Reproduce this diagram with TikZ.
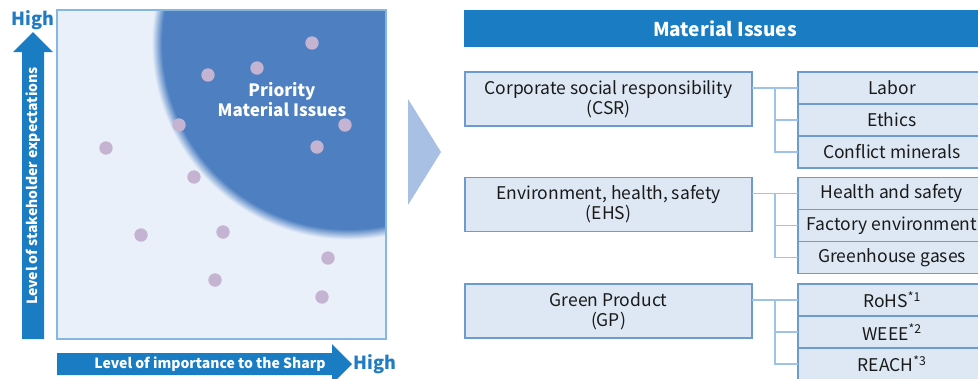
\documentclass[tikz,border=0pt]{standalone}
\usepackage{fontspec}
\setmainfont{Noto Sans CJK JP}
\usetikzlibrary{positioning,calc}

\definecolor{sharpblue}{HTML}{1A7DC4}
\definecolor{highblue}{HTML}{1F7BC3}
\definecolor{mapbg}{HTML}{EAF0FA}
\definecolor{mapline}{HTML}{86B6E2}
\definecolor{blobblue}{HTML}{4E80C1}
\definecolor{dotlilac}{HTML}{C4B3D1}
\definecolor{chevron}{HTML}{A7C0E4}
\definecolor{boxfill}{HTML}{DDE8F4}
\definecolor{boxline}{HTML}{6C9BD0}
\definecolor{linkline}{HTML}{9DC3E6}
\definecolor{ink}{HTML}{1A1A1A}

\pgfdeclareradialshading{blobfade}{\pgfpoint{0bp}{0bp}}{color(0bp)=(blobblue); color(23.5bp)=(blobblue); color(24.8bp)=(mapbg); color(50bp)=(mapbg)}

\tikzset{
  issue/.style={draw=boxline, line width=1.5pt, fill=boxfill, text=ink,
    font=\fontsize{17.5}{20}\selectfont, align=center, inner sep=0pt, outer sep=0pt,
    minimum width=287pt, minimum height=54pt},
  subissue/.style={issue, minimum width=188pt, minimum height=32pt},
  link/.style={draw=linkline, line width=1.5pt},
  hightext/.style={text=highblue, font=\bfseries\fontsize{18}{20}\selectfont, inner sep=0pt},
  axistext/.style={text=white, font=\bfseries\fontsize{14}{16}\selectfont, inner sep=0pt},
  issuedot/.style={fill=dotlilac}
}

\begin{document}
\begin{tikzpicture}[x=1pt, y=-1pt]

  \useasboundingbox (0,0) rectangle (978,378);
  \clip (0,0) rectangle (978,378);

  % materiality map
  \fill[mapbg] (57,10) rectangle (386,339);
  \begin{scope}
    \clip (57,10) rectangle (386,339);
    \shade[shading=blobfade] (348,43) circle (198);
  \end{scope}
  \draw[mapline, line width=1.2pt] (57,10) rectangle (386,339);

  \foreach \dx/\dy in {312/43, 257/68, 208/75, 179/125, 106/148, 345/125, 317/147,
                       194/177, 141/235, 223/232, 328/258, 215/280, 322/297}
    \fill[issuedot] (\dx,\dy) circle (6.7);

  \node (priority) [text=white, font=\bfseries\fontsize{17}{20}\selectfont, align=center]
    at (282,100) {Priority\\Material Issues};

  % axes
  \fill[sharpblue] (22,339) -- (22,52) -- (13,52) -- (33,32) -- (53,52) -- (44,52) -- (44,339) -- cycle;
  \fill[sharpblue] (57,353) -- (332,353) -- (332,344) -- (352,364) -- (332,384) -- (332,375) -- (57,375) -- cycle;
  \node (ylabel) [axistext, rotate=90] at (33,186) {Level of stakeholder expectations};
  \node (xlabel) [axistext] at (210,364) {Level of importance to the Sharp};
  \node (hightop) [hightext] at (33,20) {High};
  \node (highright) [hightext] at (375,364) {High};

  \fill[chevron] (408,99) -- (441,152) -- (408,205) -- cycle;

  % issue list
  \node (header) [fill=sharpblue, text=white, font=\bfseries\fontsize{19}{22}\selectfont,
    minimum width=522pt, minimum height=37pt, inner sep=0pt] at (725,28.5) {Material Issues};

  \node (csr) [issue] at (608.5,99) {Corporate social responsibility\\(CSR)};
  \node (labor) [subissue] at (892,88) {Labor};
  \node (ethics) [subissue, below=0pt of labor] {Ethics};
  \node (conflict) [subissue, below=0pt of ethics] {Conflict minerals};

  \node (ehs) [issue] at (608.5,204.5) {Environment, health, safety\\(EHS)};
  \node (health) [subissue] at (892,193.5) {Health and safety};
  \node (factory) [subissue, below=0pt of health] {Factory environment};
  \node (ghg) [subissue, below=0pt of factory] {Greenhouse gases};

  \node (gp) [issue] at (608.5,311) {Green Product\\(GP)};
  \node (rohs) [subissue] at (892,300) {RoHS\textsuperscript{*1}};
  \node (weee) [subissue, below=0pt of rohs] {WEEE\textsuperscript{*2}};
  \node (reach) [subissue, below=0pt of weee] {REACH\textsuperscript{*3}};

  \coordinate (csrfork) at ($(csr.east |- labor)!0.5!(labor.west)$);
  \draw[link] (csr.east |- labor) -- (labor.west); % CSR->Labor
  \draw[link] (csrfork) |- (ethics.west);
  \draw[link] (csrfork) |- (conflict.west);

  \coordinate (ehsfork) at ($(ehs.east |- health)!0.5!(health.west)$);
  \draw[link] (ehs.east |- health) -- (health.west); % EHS->Health
  \draw[link] (ehsfork) |- (factory.west);
  \draw[link] (ehsfork) |- (ghg.west);

  \coordinate (gpfork) at ($(gp.east |- rohs)!0.5!(rohs.west)$);
  \draw[link] (gp.east |- rohs) -- (rohs.west); % GP->RoHS
  \draw[link] (gpfork) |- (weee.west);
  \draw[link] (gpfork) |- (reach.west);

\end{tikzpicture}
\end{document}
